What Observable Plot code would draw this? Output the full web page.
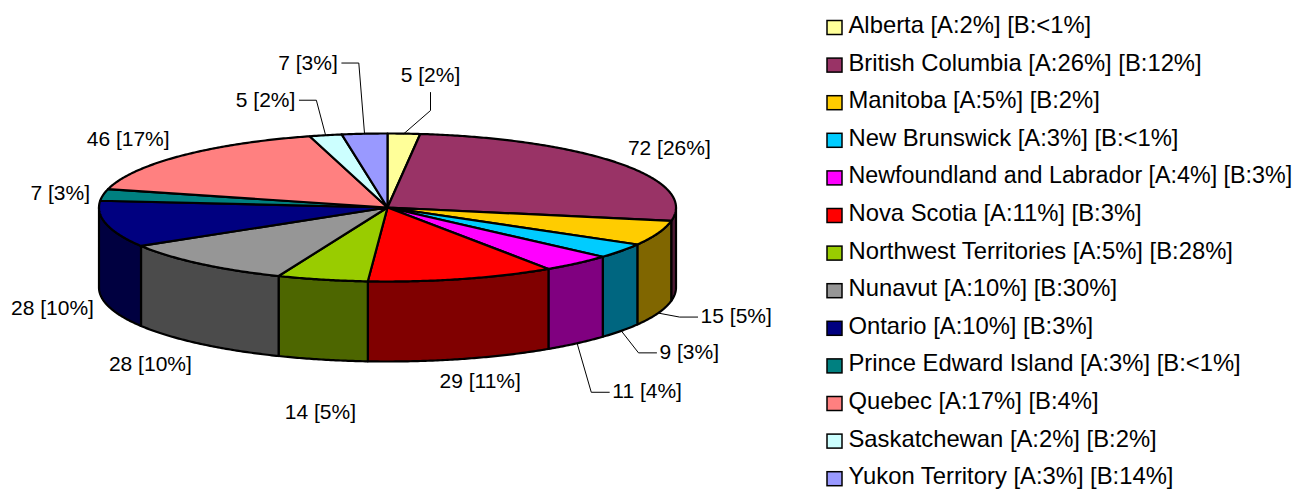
<!DOCTYPE html>
<html><head><meta charset="utf-8">
<script src="https://cdn.jsdelivr.net/npm/d3@7"></script>
<script src="https://cdn.jsdelivr.net/npm/@observablehq/plot@0.6"></script>
<style>
html,body{margin:0;padding:0;background:#fff;overflow:hidden;}
</style></head><body><div id="chart"></div>
<script>
// ---- data ----
const provinces = ["Alberta","British Columbia","Manitoba","New Brunswick","Newfoundland and Labrador","Nova Scotia","Northwest Territories","Nunavut","Ontario","Prince Edward Island","Quebec","Saskatchewan","Yukon Territory"];
const counts = [5,72,15,9,11,29,14,28,28,7,46,5,7];
const shareB = ["<1%","12%","2%","<1%","3%","3%","28%","30%","3%","<1%","4%","2%","14%"];
const colors = ["#FFFF99","#993366","#FFCC00","#00CCFF","#FF00FF","#FF0000","#99CC00","#969696","#000080","#008080","#FF8080","#CCFFFF","#9999FF"];

// ---- layout ----
const W = 1294, H = 489;
const CX = 387, CY = 207, RX = 288.5, RY = 74, DEPTH = 80;
// label centre offset from the slice's outer anchor, and leader attachment side
const labelLayout = [
  [26.6, -58.6, "below"], [50, -15.5, null], [78, 3, "left"], [68, 21, "left"],
  [70, 48, "left"], [18, 22.5, null], [-2, 53, null], [-50, 20, null],
  [-54, 4, null], [-43, -1.5, null], [-53, -17, null], [-60, -35, "right"], [-56.5, -70.7, "right"]
];
const FONT = "'Liberation Sans', Arial, Helvetica, sans-serif";
const LABEL_SIZE = 21, LEGEND_SIZE = 23.8;
const LEGEND_X = 848, LEGEND_MAX_W = W - LEGEND_X - 2;

// ---- derived ----
const total = d3.sum(counts);
const pct = counts.map(v => Math.round(v / total * 100));
const cum = d3.cumsum(counts);
const angles = counts.map((v, i) => [((cum[i] - v) / total) * 2 * Math.PI, (cum[i] / total) * 2 * Math.PI]);
const pt = (t, dz = 0) => [CX + RX * Math.sin(t), CY - RY * Math.cos(t) + dz];
function arc(a0, a1, dz) {
  const n = Math.max(2, Math.ceil((a1 - a0) / (Math.PI / 360)));
  return d3.range(n + 1).map(j => pt(a0 + (a1 - a0) * j / n, dz));
}
const half = c => { const r = d3.rgb(c); return d3.rgb(r.r / 2, r.g / 2, r.b / 2).formatHex(); };

const topRows = [], sideRows = [];
angles.forEach(([a0, a1], i) => {
  const poly = [[CX, CY], ...arc(a0, a1, 0), [CX, CY]];
  poly.forEach(([x, y]) => topRows.push({k: i, x, y, fill: colors[i]}));
  const lo = Math.max(a0, Math.PI / 2), hi = Math.min(a1, 1.5 * Math.PI);
  if (lo < hi) {
    const s = [...arc(lo, hi, 0), ...arc(lo, hi, DEPTH).reverse()];
    s.push(s[0]);
    s.forEach(([x, y]) => sideRows.push({k: i, x, y, fill: half(colors[i])}));
  }
});

const ctx = document.createElement("canvas").getContext("2d");
ctx.font = `${LABEL_SIZE}px ${FONT}`;
const labelRows = [], leaderRows = [];
angles.forEach(([a0, a1], i) => {
  const m = (a0 + a1) / 2;
  const front = Math.cos(m) < 0;
  const [ax, ay] = pt(m, front ? DEPTH : 0);
  const [dx, dy, side] = labelLayout[i];
  const text = `${counts[i]} [${pct[i]}%]`;
  const lx = ax + dx, ly = ay + dy;
  labelRows.push({x: lx, y: ly, text});
  if (side) {
    const w = ctx.measureText(text).width;
    let att, elb;
    if (side === "below") { att = [lx, ly + 17.5]; elb = [lx, ly + 35.5]; }
    else if (side === "left") { att = [lx - w / 2 - 3, ly + 1]; elb = [att[0] - 18, ly + 1]; }
    else { att = [lx + w / 2 + 4, ly]; elb = [att[0] + 17, ly]; }
    [att, elb, [ax, ay]].forEach(([x, y]) => leaderRows.push({k: i, x, y}));
  }
});

ctx.font = `${LEGEND_SIZE}px ${FONT}`;
const legendRows = provinces.map((p, i) => {
  const base = 32.5 + i * 37.6;
  const name = `${p} [A:${pct[i]}%] [B:${shareB[i]}]`;
  const w = ctx.measureText(name).width;
  const size = w > LEGEND_MAX_W ? LEGEND_SIZE * LEGEND_MAX_W / w : LEGEND_SIZE;
  return {name, fill: colors[i], base, size};
});

const plot = Plot.plot({
  width: W, height: H, margin: 0,
  x: {domain: [0, W], range: [0, W], axis: null},
  y: {domain: [0, H], range: [0, H], axis: null},
  color: {type: "identity"},
  style: {fontFamily: FONT, background: "white", overflow: "hidden"},
  marks: [
    Plot.line(sideRows, {x: "x", y: "y", z: "k", fill: d => d.fill, stroke: "#000", strokeWidth: 2.2, strokeLinejoin: "round", curve: "linear"}),
    Plot.line(topRows, {x: "x", y: "y", z: "k", fill: d => d.fill, stroke: "#000", strokeWidth: 2.2, strokeLinejoin: "round", curve: "linear"}),
    Plot.line(leaderRows, {x: "x", y: "y", z: "k", stroke: "#000", strokeWidth: 1, curve: "linear"}),
    Plot.text(labelRows, {x: "x", y: "y", text: "text", fontSize: LABEL_SIZE, textAnchor: "middle", lineAnchor: "middle", fill: "#000"}),
    Plot.rect(legendRows, {x1: () => 827, x2: () => 842, y1: d => d.base - 12, y2: d => d.base + 2, fill: d => d.fill, stroke: "#000", strokeWidth: 1.5}),
    ...legendRows.map(r => Plot.text([r], {x: () => LEGEND_X, y: d => d.base - 0.32 * d.size, text: "name", fontSize: r.size, textAnchor: "start", lineAnchor: "middle", fill: "#000"}))
  ]
});
document.getElementById("chart").appendChild(plot);
</script></body></html>
